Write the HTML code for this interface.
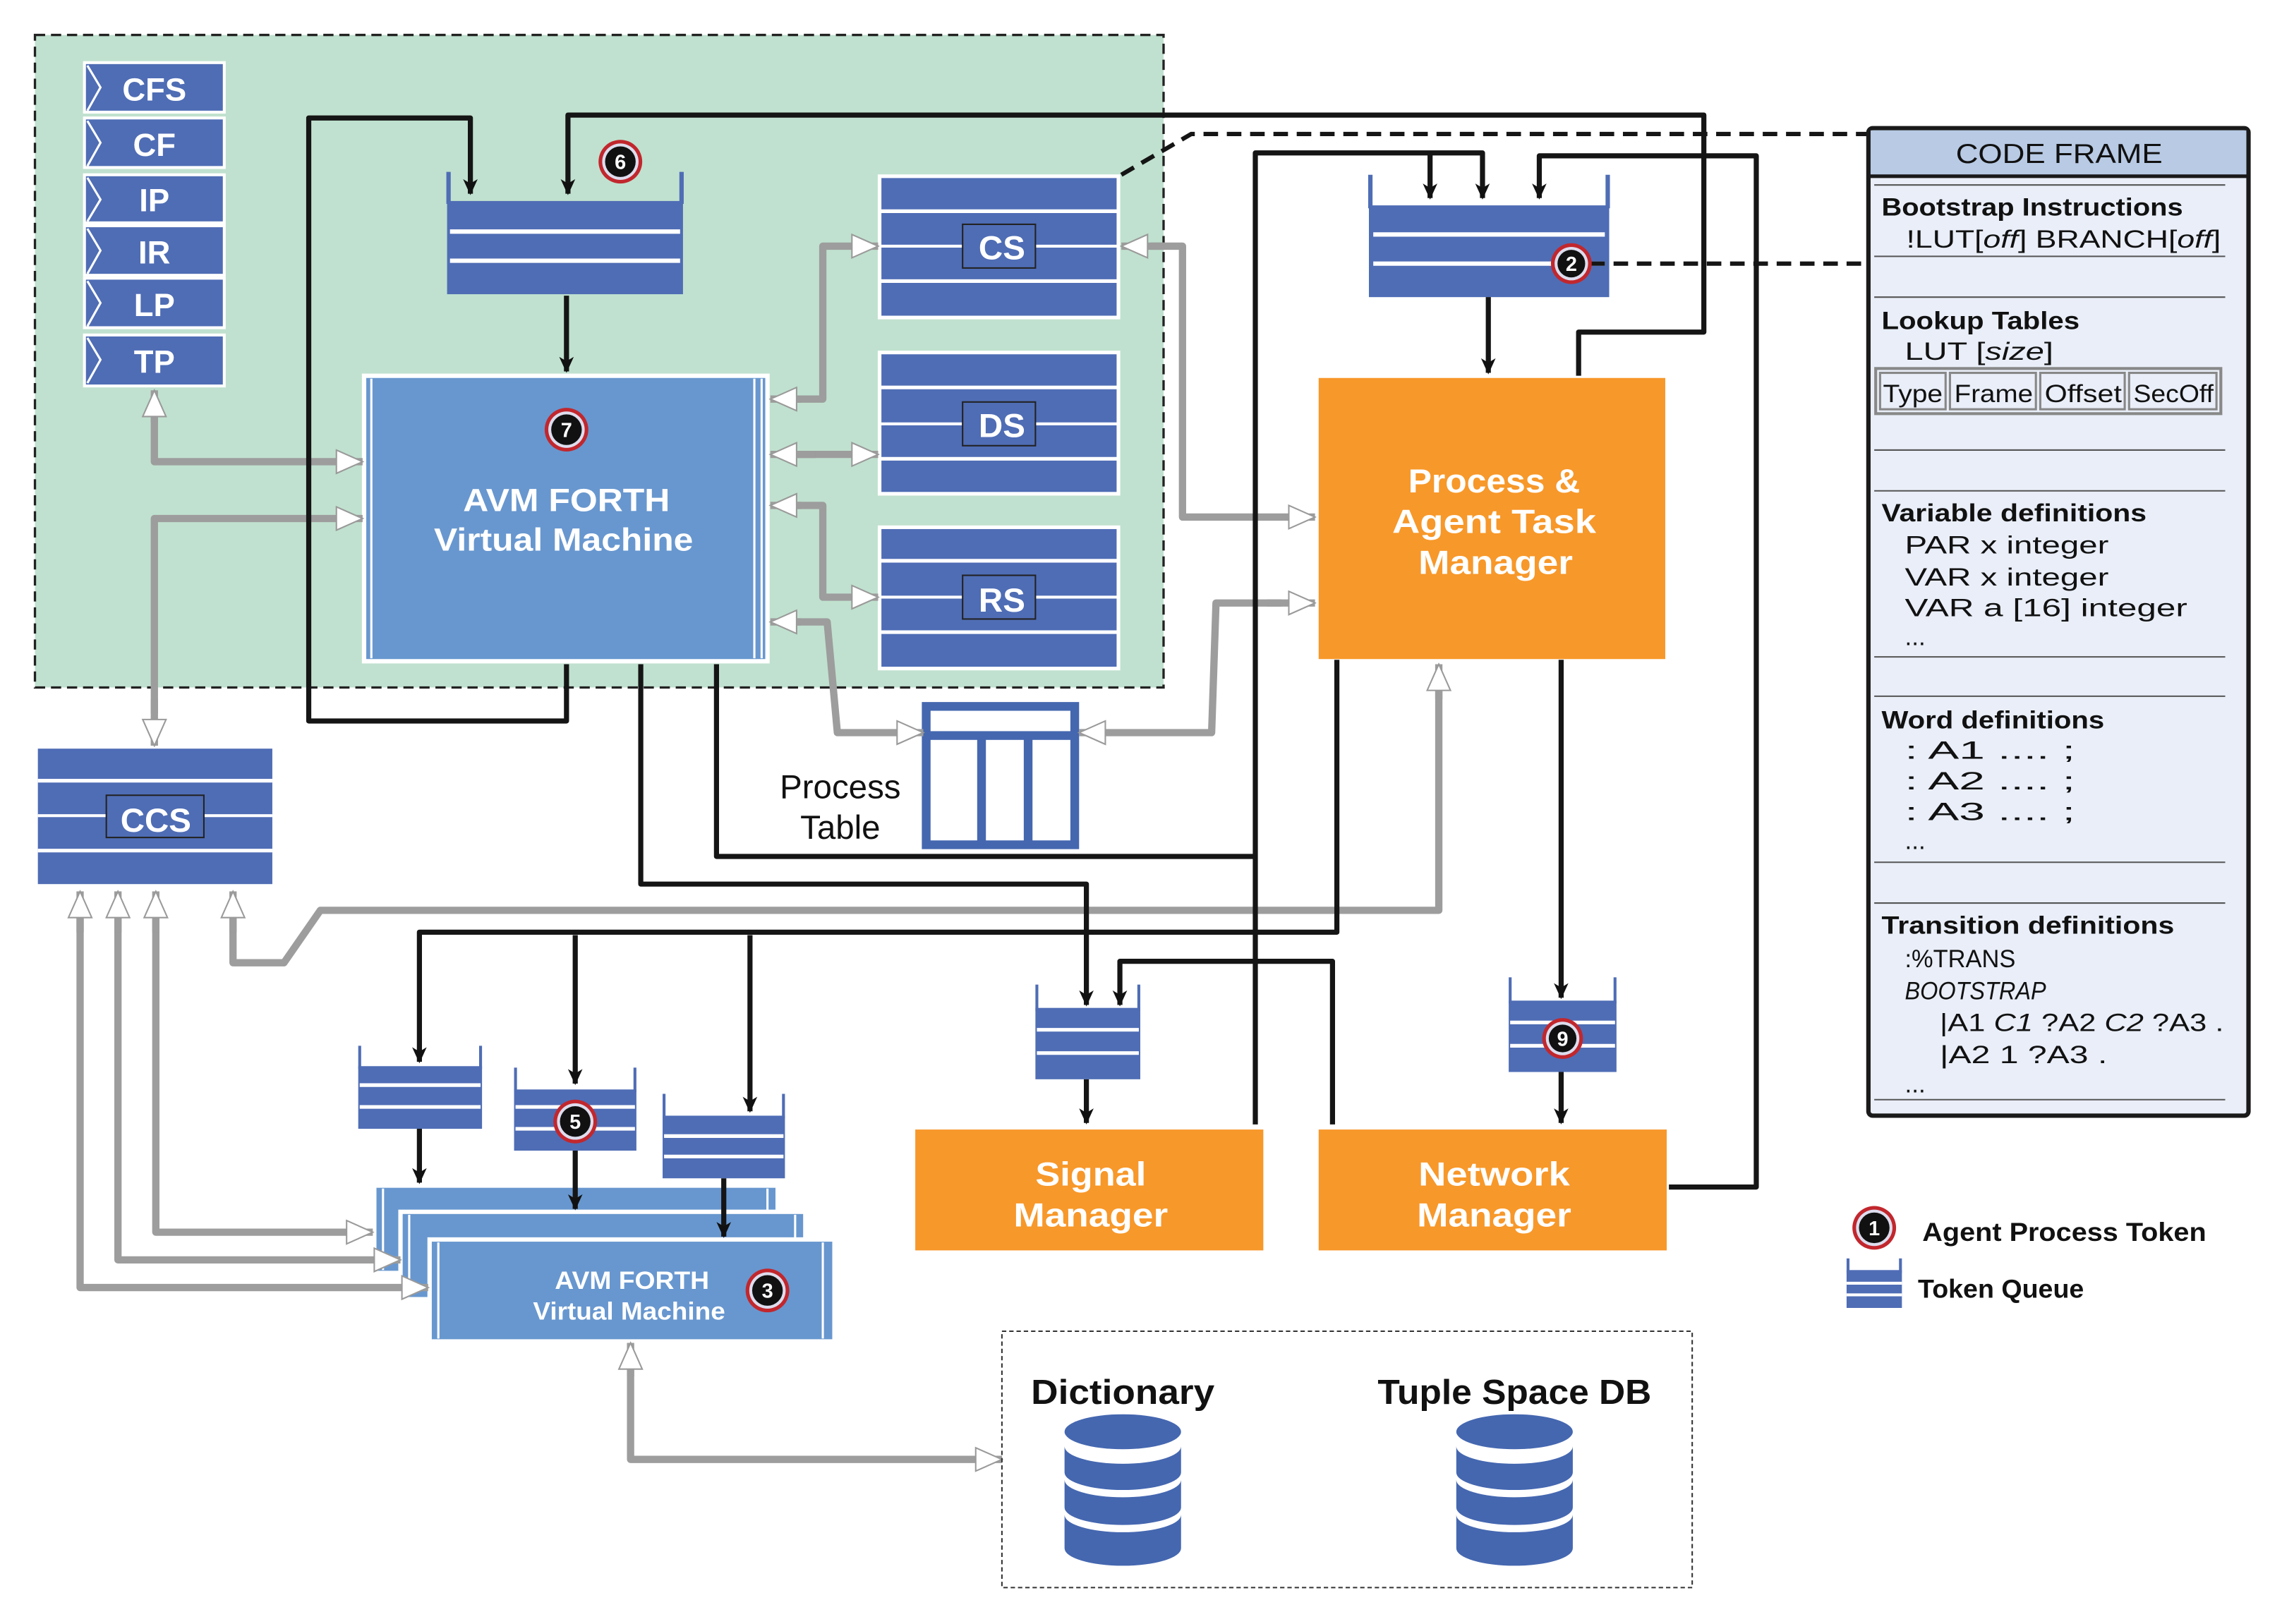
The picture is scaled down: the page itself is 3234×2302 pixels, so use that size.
<!DOCTYPE html>
<html><head><meta charset="utf-8"><style>
html,body{margin:0;padding:0;background:#fff;}
svg{display:block;}
text{font-family:"Liberation Sans","DejaVu Sans",sans-serif;}
</style></head><body>
<svg width="3234" height="2302" viewBox="0 0 1567 1115" preserveAspectRatio="none" xmlns="http://www.w3.org/2000/svg">
<defs>
<marker id="ab" markerUnits="userSpaceOnUse" markerWidth="12" markerHeight="22" refX="10" refY="5" orient="auto" viewBox="0 0 12 10">
<path d="M0,0 L11,5 L0,10 L3,5 z" fill="#111"/></marker>
<marker id="ag" markerUnits="userSpaceOnUse" markerWidth="20" markerHeight="20" refX="19" refY="10" orient="auto" viewBox="0 0 20 20">
<path d="M1,2 L19,10 L1,18 z" fill="#fff" stroke="#9a9a9a" stroke-width="1"/></marker>
</defs>

<rect x="24" y="24" width="775" height="448" fill="#c0e1cf" stroke="#222" stroke-width="1.6" stroke-dasharray="7,4"/>

<g font-weight="bold" font-size="22" fill="#fff" text-anchor="middle">
<rect x="58" y="43" width="96" height="34" fill="#4f6db5" stroke="#fff" stroke-width="2"/><polyline points="60,45 69,60 60,76" fill="none" stroke="#fff" stroke-width="1.5"/><text x="106" y="69">CFS</text>
<rect x="58" y="81" width="96" height="34" fill="#4f6db5" stroke="#fff" stroke-width="2"/><polyline points="60,83 69,98 60,114" fill="none" stroke="#fff" stroke-width="1.5"/><text x="106" y="107">CF</text>
<rect x="58" y="120" width="96" height="33" fill="#4f6db5" stroke="#fff" stroke-width="2"/><polyline points="60,122 69,137 60,152" fill="none" stroke="#fff" stroke-width="1.5"/><text x="106" y="145">IP</text>
<rect x="58" y="155" width="96" height="34" fill="#4f6db5" stroke="#fff" stroke-width="2"/><polyline points="60,157 69,172 60,188" fill="none" stroke="#fff" stroke-width="1.5"/><text x="106" y="181">IR</text>
<rect x="58" y="191" width="96" height="34" fill="#4f6db5" stroke="#fff" stroke-width="2"/><polyline points="60,193 69,208 60,224" fill="none" stroke="#fff" stroke-width="1.5"/><text x="106" y="217">LP</text>
<rect x="58" y="230" width="96" height="35" fill="#4f6db5" stroke="#fff" stroke-width="2"/><polyline points="60,232 69,247 60,263" fill="none" stroke="#fff" stroke-width="1.5"/><text x="106" y="256">TP</text>
</g>

<g>
<rect x="604" y="121" width="164" height="97" fill="#4f6db5" stroke="#fff" stroke-width="2.5"/>
<line x1="604" y1="145" x2="768" y2="145" stroke="#fff" stroke-width="2.5"/><line x1="604" y1="169" x2="768" y2="169" stroke="#fff" stroke-width="2"/><line x1="604" y1="193" x2="768" y2="193" stroke="#fff" stroke-width="2.5"/>
<rect x="661" y="154" width="50" height="30" fill="#4f6db5" stroke="#222" stroke-width="1"/>
<rect x="604" y="242" width="164" height="97" fill="#4f6db5" stroke="#fff" stroke-width="2.5"/>
<line x1="604" y1="266" x2="768" y2="266" stroke="#fff" stroke-width="2.5"/><line x1="604" y1="291" x2="768" y2="291" stroke="#fff" stroke-width="2"/><line x1="604" y1="315" x2="768" y2="315" stroke="#fff" stroke-width="2.5"/>
<rect x="661" y="276" width="50" height="30" fill="#4f6db5" stroke="#222" stroke-width="1"/>
<rect x="604" y="362" width="164" height="97" fill="#4f6db5" stroke="#fff" stroke-width="2.5"/>
<line x1="604" y1="385" x2="768" y2="385" stroke="#fff" stroke-width="2.5"/><line x1="604" y1="410" x2="768" y2="410" stroke="#fff" stroke-width="2"/><line x1="604" y1="434" x2="768" y2="434" stroke="#fff" stroke-width="2.5"/>
<rect x="661" y="395" width="50" height="30" fill="#4f6db5" stroke="#222" stroke-width="1"/>
<g font-weight="bold" font-size="23" fill="#fff" text-anchor="middle"><text x="688" y="178">CS</text><text x="688" y="300">DS</text><text x="688" y="420">RS</text></g>
</g>

<rect x="26" y="514" width="161" height="93" fill="#4f6db5"/>
<line x1="26" y1="536" x2="187" y2="536" stroke="#fff" stroke-width="2.5"/><line x1="26" y1="560" x2="187" y2="560" stroke="#fff" stroke-width="2"/><line x1="26" y1="584" x2="187" y2="584" stroke="#fff" stroke-width="2.5"/>
<rect x="73" y="546" width="67" height="29" fill="#4f6db5" stroke="#222" stroke-width="1"/>
<text x="107" y="571" font-weight="bold" font-size="23" fill="#fff" text-anchor="middle">CCS</text>

<g>
<rect x="307" y="138" width="162" height="64" fill="#4f6db5"/>
<line x1="308" y1="118" x2="308" y2="140" stroke="#4f6db5" stroke-width="3"/><line x1="468" y1="118" x2="468" y2="140" stroke="#4f6db5" stroke-width="3"/>
<line x1="309" y1="159" x2="467" y2="159" stroke="#fff" stroke-width="3"/><line x1="309" y1="179" x2="467" y2="179" stroke="#fff" stroke-width="3"/>
</g>
<g>
<rect x="940" y="141" width="165" height="63" fill="#4f6db5"/>
<line x1="941" y1="120" x2="941" y2="143" stroke="#4f6db5" stroke-width="3"/><line x1="1104" y1="120" x2="1104" y2="143" stroke="#4f6db5" stroke-width="3"/>
<line x1="943" y1="161" x2="1102" y2="161" stroke="#fff" stroke-width="3"/><line x1="943" y1="181" x2="1102" y2="181" stroke="#fff" stroke-width="3"/>
</g>
<g>
<rect x="711" y="692" width="72" height="49" fill="#4f6db5"/>
<line x1="712" y1="676" x2="712" y2="694" stroke="#4f6db5" stroke-width="2"/><line x1="782" y1="676" x2="782" y2="694" stroke="#4f6db5" stroke-width="2"/>
<line x1="712" y1="707" x2="782" y2="707" stroke="#fff" stroke-width="2.5"/><line x1="712" y1="723" x2="782" y2="723" stroke="#fff" stroke-width="2.5"/>
</g>
<g>
<rect x="1036" y="687" width="74" height="49" fill="#4f6db5"/>
<line x1="1037" y1="671" x2="1037" y2="689" stroke="#4f6db5" stroke-width="2"/><line x1="1109" y1="671" x2="1109" y2="689" stroke="#4f6db5" stroke-width="2"/>
<line x1="1037" y1="702" x2="1109" y2="702" stroke="#fff" stroke-width="2.5"/><line x1="1037" y1="718" x2="1109" y2="718" stroke="#fff" stroke-width="2.5"/>
</g>
<g>
<rect x="246" y="732" width="85" height="43" fill="#4f6db5"/>
<line x1="247" y1="718" x2="247" y2="734" stroke="#4f6db5" stroke-width="2"/><line x1="330" y1="718" x2="330" y2="734" stroke="#4f6db5" stroke-width="2"/>
<line x1="247" y1="745" x2="330" y2="745" stroke="#fff" stroke-width="2.5"/><line x1="247" y1="760" x2="330" y2="760" stroke="#fff" stroke-width="2.5"/>
<rect x="353" y="748" width="84" height="42" fill="#4f6db5"/>
<line x1="354" y1="733" x2="354" y2="750" stroke="#4f6db5" stroke-width="2"/><line x1="436" y1="733" x2="436" y2="750" stroke="#4f6db5" stroke-width="2"/>
<line x1="354" y1="760" x2="436" y2="760" stroke="#fff" stroke-width="2.5"/><line x1="354" y1="775" x2="436" y2="775" stroke="#fff" stroke-width="2.5"/>
<rect x="455" y="766" width="84" height="43" fill="#4f6db5"/>
<line x1="456" y1="751" x2="456" y2="768" stroke="#4f6db5" stroke-width="2"/><line x1="538" y1="751" x2="538" y2="768" stroke="#4f6db5" stroke-width="2"/>
<line x1="456" y1="780" x2="538" y2="780" stroke="#fff" stroke-width="2.5"/><line x1="456" y1="794" x2="538" y2="794" stroke="#fff" stroke-width="2.5"/>
</g>

<rect x="636" y="485" width="102" height="95" fill="#fff" stroke="#4567b0" stroke-width="6"/>
<rect x="636" y="502" width="102" height="6" fill="#4567b0"/>
<rect x="671" y="505" width="6" height="75" fill="#4567b0"/>
<rect x="703" y="505" width="6" height="75" fill="#4567b0"/>
<text x="577" y="548" font-size="23" text-anchor="middle" fill="#111">Process</text>
<text x="577" y="576" font-size="23" text-anchor="middle" fill="#111">Table</text>

<rect x="250" y="258" width="277" height="196" fill="#6897cf" stroke="#fff" stroke-width="3"/>
<line x1="255" y1="260" x2="255" y2="452" stroke="#fff" stroke-width="1.5"/>
<line x1="518" y1="260" x2="518" y2="452" stroke="#fff" stroke-width="1.5"/><line x1="523" y1="260" x2="523" y2="452" stroke="#fff" stroke-width="1.5"/>
<g font-weight="bold" fill="#fff" text-anchor="middle" font-size="22"><text x="389" y="351" textLength="142" lengthAdjust="spacingAndGlyphs">AVM FORTH</text><text x="387" y="378" textLength="178" lengthAdjust="spacingAndGlyphs">Virtual Machine</text></g>

<rect x="257" y="814" width="277" height="60" fill="#6897cf" stroke="#fff" stroke-width="3"/>
<line x1="263" y1="816" x2="263" y2="872" stroke="#fff" stroke-width="1.5"/><line x1="527" y1="816" x2="527" y2="872" stroke="#fff" stroke-width="1.5"/>
<rect x="275" y="832" width="278" height="60" fill="#6897cf" stroke="#fff" stroke-width="3"/>
<line x1="281" y1="834" x2="281" y2="890" stroke="#fff" stroke-width="1.5"/><line x1="546" y1="834" x2="546" y2="890" stroke="#fff" stroke-width="1.5"/>
<rect x="295" y="851" width="278" height="70" fill="#6897cf" stroke="#fff" stroke-width="3"/>
<line x1="301" y1="853" x2="301" y2="919" stroke="#fff" stroke-width="1.5"/><line x1="565" y1="853" x2="565" y2="919" stroke="#fff" stroke-width="1.5"/>
<g font-weight="bold" fill="#fff" text-anchor="middle" font-size="17"><text x="434" y="885" textLength="106" lengthAdjust="spacingAndGlyphs">AVM FORTH</text><text x="432" y="906" textLength="132" lengthAdjust="spacingAndGlyphs">Virtual Machine</text></g>

<g fill="#f7982a" stroke="#fff" stroke-width="3">
<rect x="904" y="258" width="241" height="196"/>
<rect x="627" y="774" width="242" height="86"/>
<rect x="904" y="774" width="242" height="86"/>
</g>
<g font-weight="bold" fill="#fff" text-anchor="middle" font-size="23">
<text x="1026" y="338" textLength="118" lengthAdjust="spacingAndGlyphs">Process &amp;</text>
<text x="1026" y="366" textLength="140" lengthAdjust="spacingAndGlyphs">Agent Task</text>
<text x="1027" y="394" textLength="106" lengthAdjust="spacingAndGlyphs">Manager</text>
<text x="749" y="814" textLength="76" lengthAdjust="spacingAndGlyphs">Signal</text>
<text x="749" y="842" textLength="106" lengthAdjust="spacingAndGlyphs">Manager</text>
<text x="1026" y="814" textLength="104" lengthAdjust="spacingAndGlyphs">Network</text>
<text x="1026" y="842" textLength="106" lengthAdjust="spacingAndGlyphs">Manager</text>
</g>

<g fill="none" stroke="#9d9d9d" stroke-width="5" stroke-linejoin="round">
<path d="M106,287 L106,317 L249,317" marker-end="url(#ag)"/>
<path d="M106,290 L106,268" marker-end="url(#ag)"/>
<path d="M106,490 L106,356 L249,356" marker-end="url(#ag)"/>
<path d="M106,480 L106,512" marker-end="url(#ag)"/>
<path d="M546,274 L565,274 L565,169 L603,169" marker-end="url(#ag)"/>
<path d="M550,274 L529,274" marker-end="url(#ag)"/>
<path d="M546,312 L603,312" marker-end="url(#ag)"/>
<path d="M560,312 L529,312" marker-end="url(#ag)"/>
<path d="M546,347 L565,347 L565,410 L603,410" marker-end="url(#ag)"/>
<path d="M550,347 L529,347" marker-end="url(#ag)"/>
<path d="M546,427 L568,427 L575,503 L634,503" marker-end="url(#ag)"/>
<path d="M550,427 L529,427" marker-end="url(#ag)"/>
<path d="M790,169 L812,169 L812,355 L903,355" marker-end="url(#ag)"/>
<path d="M800,169 L770,169" marker-end="url(#ag)"/>
<path d="M880,414 L835,414 L832,503 L741,503" marker-end="url(#ag)"/>
<path d="M870,414 L903,414" marker-end="url(#ag)"/>
<path d="M988,470 L988,625 L220,625 L195,661 L160,661 L160,630"/>
<path d="M160,640 L160,612" marker-end="url(#ag)"/>
<path d="M988,480 L988,456" marker-end="url(#ag)"/>
<path d="M55,630 L55,884 L294,884" marker-end="url(#ag)"/>
<path d="M55,640 L55,612" marker-end="url(#ag)"/>
<path d="M81,630 L81,865 L275,865" marker-end="url(#ag)"/>
<path d="M81,640 L81,612" marker-end="url(#ag)"/>
<path d="M107,630 L107,846 L256,846" marker-end="url(#ag)"/>
<path d="M107,640 L107,612" marker-end="url(#ag)"/>
<path d="M433,940 L433,1002 L688,1002" marker-end="url(#ag)"/>
<path d="M433,945 L433,922" marker-end="url(#ag)"/>
</g>

<g fill="none" stroke="#151515" stroke-width="3.5" stroke-linejoin="round">
<path d="M389,456 L389,495 L212,495 L212,81 L323,81 L323,133" style="marker-end:url(#ab)"/>
<path d="M1084,258 L1084,228 L1170,228 L1170,79 L390,79 L390,133" style="marker-end:url(#ab)"/>
<path d="M389,203 L389,255" style="marker-end:url(#ab)"/>
<path d="M862,772 L862,105 L1018,105 L1018,136" style="marker-end:url(#ab)"/>
<path d="M982,105 L982,136" style="marker-end:url(#ab)"/>
<path d="M1146,815 L1206,815 L1206,107 L1057,107 L1057,136" style="marker-end:url(#ab)"/>
<path d="M1022,204 L1022,256" style="marker-end:url(#ab)"/>
<path d="M1072,453 L1072,685" style="marker-end:url(#ab)"/>
<path d="M1072,736 L1072,771" style="marker-end:url(#ab)"/>
<path d="M492,456 L492,588 L862,588"/>
<path d="M440,456 L440,607 L746,607 L746,690" style="marker-end:url(#ab)"/>
<path d="M746,741 L746,771" style="marker-end:url(#ab)"/>
<path d="M915,772 L915,660 L769,660 L769,690" style="marker-end:url(#ab)"/>
<path d="M918,453 L918,640 L288,640 L288,729" style="marker-end:url(#ab)"/>
<path d="M395,642 L395,744" style="marker-end:url(#ab)"/>
<path d="M515,642 L515,763" style="marker-end:url(#ab)"/>
<path d="M288,775 L288,812" style="marker-end:url(#ab)"/>
<path d="M395,790 L395,830" style="marker-end:url(#ab)"/>
<path d="M497,809 L497,849" style="marker-end:url(#ab)"/>
</g>

<g fill="none" stroke="#151515" stroke-width="3" stroke-dasharray="10,6">
<path d="M770,120 L818,92 L1283,92"/>
<path d="M1092,181 L1283,181"/>
</g>

<g font-weight="bold" font-size="14" text-anchor="middle" fill="#fff">
<g transform="translate(426,111)"><circle r="15" fill="#c1272d"/><circle r="12.5" fill="#dde"/><circle r="10.5" fill="#111"/><text y="5">6</text></g>
<g transform="translate(389,295)"><circle r="15" fill="#c1272d"/><circle r="12.5" fill="#dde"/><circle r="10.5" fill="#111"/><text y="5">7</text></g>
<g transform="translate(1079,181)"><circle r="14" fill="#c1272d"/><circle r="11.5" fill="#dde"/><circle r="9.5" fill="#111"/><text y="5">2</text></g>
<g transform="translate(1073,713)"><circle r="14" fill="#c1272d"/><circle r="11.5" fill="#dde"/><circle r="9.5" fill="#111"/><text y="5">9</text></g>
<g transform="translate(395,770)"><circle r="15" fill="#c1272d"/><circle r="12.5" fill="#dde"/><circle r="10.5" fill="#111"/><text y="5">5</text></g>
<g transform="translate(527,886)"><circle r="15" fill="#c1272d"/><circle r="12.5" fill="#dde"/><circle r="10.5" fill="#111"/><text y="5">3</text></g>
<g transform="translate(1287,843)"><circle r="15" fill="#c1272d"/><circle r="12.5" fill="#dde"/><circle r="10.5" fill="#111"/><text y="5">1</text></g>
</g>

<rect x="1268" y="872" width="38" height="26" fill="#4f6db5"/>
<line x1="1269" y1="864" x2="1269" y2="874" stroke="#4f6db5" stroke-width="2"/><line x1="1305" y1="864" x2="1305" y2="874" stroke="#4f6db5" stroke-width="2"/>
<line x1="1268" y1="881" x2="1306" y2="881" stroke="#fff" stroke-width="2"/><line x1="1268" y1="889" x2="1306" y2="889" stroke="#fff" stroke-width="2"/>
<text x="1320" y="852" font-weight="bold" font-size="18" fill="#111" textLength="195" lengthAdjust="spacingAndGlyphs">Agent Process Token</text>
<text x="1317" y="891" font-weight="bold" font-size="18" fill="#111" textLength="114" lengthAdjust="spacingAndGlyphs">Token Queue</text>

<rect x="688" y="914" width="474" height="176" fill="none" stroke="#333" stroke-width="1" stroke-dasharray="3,2"/>
<text x="771" y="964" font-weight="bold" font-size="24" text-anchor="middle" fill="#111" textLength="126" lengthAdjust="spacingAndGlyphs">Dictionary</text>
<text x="1040" y="964" font-weight="bold" font-size="24" text-anchor="middle" fill="#111" textLength="188" lengthAdjust="spacingAndGlyphs">Tuple Space DB</text>
<g fill="#4567b0">
<path d="M731,1040 L731,1063 A40,12 0 0 0 811,1063 L811,1040 A40,12 0 0 1 731,1040 z"/>
<path d="M731,1016 L731,1035 A40,12 0 0 0 811,1035 L811,1016 A40,12 0 0 1 731,1016 z"/>
<path d="M731,993 L731,1011 A40,12 0 0 0 811,1011 L811,993 A40,12 0 0 1 731,993 z"/>
<ellipse cx="771" cy="983" rx="40" ry="12"/>
<path d="M1000,1040 L1000,1063 A40,12 0 0 0 1080,1063 L1080,1040 A40,12 0 0 1 1000,1040 z"/>
<path d="M1000,1016 L1000,1035 A40,12 0 0 0 1080,1035 L1080,1016 A40,12 0 0 1 1000,1016 z"/>
<path d="M1000,993 L1000,1011 A40,12 0 0 0 1080,1011 L1080,993 A40,12 0 0 1 1000,993 z"/>
<ellipse cx="1040" cy="983" rx="40" ry="12"/>
</g>

<rect x="1283" y="88" width="261" height="678" rx="3" fill="#e9eef8" stroke="#1a1a1a" stroke-width="3"/>
<rect x="1284.5" y="89.5" width="258" height="31" fill="#b8cae4"/>
<line x1="1283" y1="121" x2="1544" y2="121" stroke="#1a1a1a" stroke-width="2.5"/>
<text x="1414" y="112" font-family="DejaVu Sans" font-size="19" text-anchor="middle" fill="#111" textLength="142" lengthAdjust="spacingAndGlyphs">CODE FRAME</text>
<g stroke="#555" stroke-width="1">
<line x1="1287" y1="127" x2="1528" y2="127"/><line x1="1287" y1="176" x2="1528" y2="176"/>
<line x1="1287" y1="204" x2="1528" y2="204"/><line x1="1287" y1="309" x2="1528" y2="309"/>
<line x1="1287" y1="337" x2="1528" y2="337"/><line x1="1287" y1="451" x2="1528" y2="451"/>
<line x1="1287" y1="478" x2="1528" y2="478"/><line x1="1287" y1="592" x2="1528" y2="592"/>
<line x1="1287" y1="620" x2="1528" y2="620"/><line x1="1287" y1="755" x2="1528" y2="755"/>
</g>
<g font-family="DejaVu Sans" fill="#111" font-size="17">
<text x="1292" y="148" font-weight="bold" textLength="207" lengthAdjust="spacingAndGlyphs">Bootstrap Instructions</text>
<text x="1309" y="170" textLength="216" lengthAdjust="spacingAndGlyphs">!LUT[<tspan font-style="italic">off</tspan>]  BRANCH[<tspan font-style="italic">off</tspan>]</text>
<text x="1292" y="226" font-weight="bold" textLength="136" lengthAdjust="spacingAndGlyphs">Lookup Tables</text>
<text x="1308" y="247" textLength="102" lengthAdjust="spacingAndGlyphs">LUT  [<tspan font-style="italic">size</tspan>]</text>
<text x="1292" y="358" font-weight="bold" textLength="182" lengthAdjust="spacingAndGlyphs">Variable definitions</text>
<text x="1308" y="380" font-family="DejaVu Sans Mono" textLength="140" lengthAdjust="spacingAndGlyphs">PAR x integer</text>
<text x="1308" y="402" font-family="DejaVu Sans Mono" textLength="140" lengthAdjust="spacingAndGlyphs">VAR x integer</text>
<text x="1308" y="423" font-family="DejaVu Sans Mono" textLength="194" lengthAdjust="spacingAndGlyphs">VAR a [16] integer</text>
<text x="1308" y="443" font-family="DejaVu Sans Mono">...</text>
<text x="1292" y="500" font-weight="bold" textLength="153" lengthAdjust="spacingAndGlyphs">Word definitions</text>
<text x="1308" y="521" font-family="DejaVu Sans Mono" textLength="117" lengthAdjust="spacingAndGlyphs">: A1 .... ;</text>
<text x="1308" y="542" font-family="DejaVu Sans Mono" textLength="117" lengthAdjust="spacingAndGlyphs">: A2 .... ;</text>
<text x="1308" y="563" font-family="DejaVu Sans Mono" textLength="117" lengthAdjust="spacingAndGlyphs">: A3 .... ;</text>
<text x="1308" y="583" font-family="DejaVu Sans Mono">...</text>
<text x="1292" y="641" font-weight="bold" textLength="201" lengthAdjust="spacingAndGlyphs">Transition definitions</text>
<text x="1308" y="664" textLength="76" lengthAdjust="spacingAndGlyphs">:%TRANS</text>
<text x="1308" y="686" font-style="italic" textLength="97" lengthAdjust="spacingAndGlyphs">BOOTSTRAP</text>
<text x="1332" y="708" font-family="DejaVu Sans Mono" textLength="195" lengthAdjust="spacingAndGlyphs">|A1 <tspan font-style="italic">C1</tspan> ?A2 <tspan font-style="italic">C2</tspan> ?A3 .</text>
<text x="1332" y="730" font-family="DejaVu Sans Mono" textLength="115" lengthAdjust="spacingAndGlyphs">|A2 1 ?A3 .</text>
<text x="1308" y="750" font-family="DejaVu Sans Mono">...</text>
</g>
<rect x="1288" y="253" width="237" height="31" fill="#e9eef8" stroke="#888" stroke-width="2"/>
<g stroke="#888" stroke-width="1.5" fill="none">
<rect x="1291" y="256" width="45" height="25"/><rect x="1339" y="256" width="59" height="25"/><rect x="1401" y="256" width="58" height="25"/><rect x="1462" y="256" width="60" height="25"/>
</g>
<g font-family="DejaVu Sans" font-size="17" fill="#111">
<text x="1293" y="276" textLength="41" lengthAdjust="spacingAndGlyphs">Type</text>
<text x="1342" y="276" textLength="54" lengthAdjust="spacingAndGlyphs">Frame</text>
<text x="1404" y="276" textLength="53" lengthAdjust="spacingAndGlyphs">Offset</text>
<text x="1465" y="276" textLength="55" lengthAdjust="spacingAndGlyphs">SecOff</text>
</g>
</svg>
</body></html>
